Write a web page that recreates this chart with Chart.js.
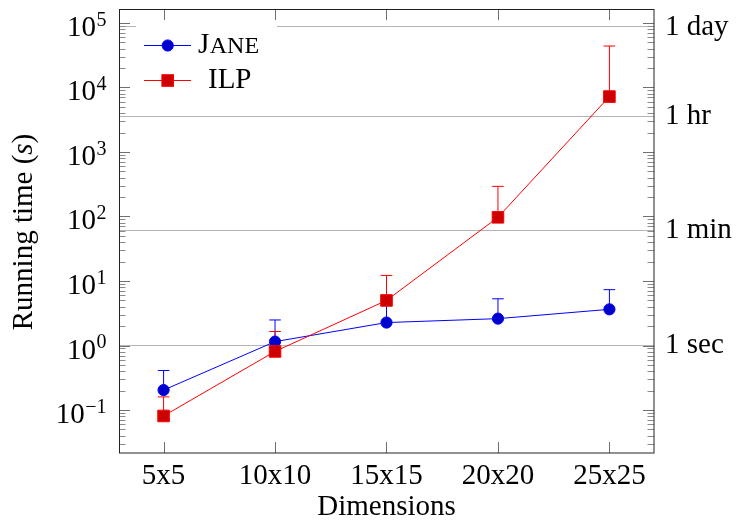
<!DOCTYPE html>
<html><head><meta charset="utf-8">
<script src="https://cdn.jsdelivr.net/npm/chart.js@4"></script>
<style>html,body{margin:0;padding:0;background:#fff}canvas{display:block}</style>
</head><body>
<canvas id="c" width="737" height="529"></canvas>
<script>
const categories = ['5x5', '10x10', '15x15', '20x20', '25x25'];
const janeTimes = [0.204, 1.15, 2.27, 2.61, 3.64];
const janeUpper = [0.41, 2.49, 4.6, 5.3, 7.34];
const ilpTimes = [0.081, 0.81, 5.0, 97, 7210];
const ilpUpper = [0.16, 1.65, 12.2, 293, 43800];
const leftTickExponents = [-1, 0, 1, 2, 3, 4, 5];
const rightTickValues = [1, 60, 3600, 86400];
const rightTickLabels = ['1 sec', '1 min', '1 hr', '1 day'];
const yMin = 0.0216, yMax = 1.63e5;

const FAM = '"Liberation Serif", "Times New Roman", serif';
const BLUE = 'rgb(0,0,255)', BLUE_FILL = 'rgb(0,0,204)';
const RED = 'rgb(255,0,0)', RED_FILL = 'rgb(204,0,0)';

const errorBars = {
  id: 'errorBars',
  beforeDatasetsDraw(chart) {
    const ctx = chart.ctx, ys = chart.scales.y, xs = chart.scales.x;
    chart.data.datasets.forEach(ds => {
      ctx.save();
      ctx.strokeStyle = ds.borderColor;
      ctx.lineWidth = 1;
      ds.upper.forEach((u, i) => {
        const x = xs.getPixelForValue(i);
        const y0 = ys.getPixelForValue(ds.data[i].y);
        const y1 = ys.getPixelForValue(u);
        ctx.beginPath();
        ctx.moveTo(x, y0); ctx.lineTo(x, y1);
        ctx.moveTo(x - 5.8, y1); ctx.lineTo(x + 5.8, y1);
        ctx.stroke();
      });
      ctx.restore();
    });
  }
};

const decor = {
  id: 'decor',
  afterDraw(chart) {
    const ctx = chart.ctx, a = chart.chartArea, ys = chart.scales.y, xs = chart.scales.x;
    ctx.save();
    ctx.lineWidth = 1;
    for (let k = -2; k <= 5; k++) {
      for (let m = 1; m <= 9; m++) {
        const v = m * Math.pow(10, k);
        if (v < yMin || v > yMax) continue;
        const y = Math.round(ys.getPixelForValue(v)) + 0.5;
        const len = m === 1 ? 11 : 6.5;
        ctx.strokeStyle = m === 1 ? '#707070' : '#8c8c8c';
        ctx.beginPath();
        ctx.moveTo(a.left, y); ctx.lineTo(a.left + len, y);
        ctx.moveTo(a.right, y); ctx.lineTo(a.right - len, y);
        ctx.stroke();
      }
    }
    ctx.strokeStyle = '#707070';
    categories.forEach((c, i) => {
      const x = Math.round(xs.getPixelForValue(i)) + 0.5;
      ctx.beginPath();
      ctx.moveTo(x, a.bottom); ctx.lineTo(x, a.bottom - 11);
      ctx.moveTo(x, a.top); ctx.lineTo(x, a.top + 11);
      ctx.stroke();
    });
    ctx.strokeStyle = '#222';
    ctx.strokeRect(Math.round(a.left) + 0.5, Math.round(a.top) + 0.5,
      Math.round(a.right - a.left) - 0.5, Math.round(a.bottom - a.top) - 0.5);

    ctx.fillStyle = '#000';
    ctx.textBaseline = 'alphabetic';
    ctx.textAlign = 'left';
    leftTickExponents.forEach(e => {
      const y = ys.getPixelForValue(Math.pow(10, e));
      const sup = e < 0 ? '\u2212' + (-e) : String(e);
      ctx.font = '20px ' + FAM;
      const wS = ctx.measureText(sup).width;
      ctx.font = '29px ' + FAM;
      const wB = ctx.measureText('10').width;
      const xb = 106.5 - wS - wB - 0.5;
      ctx.fillText('10', xb, y + 13);
      ctx.font = '20px ' + FAM;
      ctx.fillText(sup, xb + wB + 0.5, y + 2.7);
    });

    ctx.save();
    ctx.translate(32, 232);
    ctx.rotate(-Math.PI / 2);
    const segs = [['Running time (', '29px ' + FAM], ['s', 'italic 29px ' + FAM], [')', '29px ' + FAM]];
    let W = 0;
    segs.forEach(s => { ctx.font = s[1]; W += ctx.measureText(s[0]).width; });
    let cx = -W / 2;
    segs.forEach(s => { ctx.font = s[1]; ctx.fillText(s[0], cx, 0); cx += ctx.measureText(s[0]).width; });
    ctx.restore();

    ctx.fillStyle = '#fff';
    ctx.fillRect(136, 20, 141, 80);
    ctx.lineWidth = 1;
    ctx.strokeStyle = BLUE;
    ctx.beginPath(); ctx.moveTo(144, 45.5); ctx.lineTo(191, 45.5); ctx.stroke();
    ctx.fillStyle = BLUE_FILL;
    ctx.beginPath(); ctx.arc(167.7, 45.5, 5.6, 0, Math.PI * 2); ctx.fill(); ctx.stroke();
    ctx.fillStyle = '#000';
    ctx.font = '29px ' + FAM;
    ctx.fillText('J', 198, 53.3);
    const wJ = ctx.measureText('J').width;
    ctx.font = '24px ' + FAM;
    ctx.fillText('ANE', 198 + wJ + 0.5, 53.3);
    ctx.strokeStyle = RED;
    ctx.beginPath(); ctx.moveTo(144, 80.5); ctx.lineTo(191, 80.5); ctx.stroke();
    ctx.fillStyle = RED_FILL;
    ctx.fillRect(167.7 - 5.8, 80.5 - 5.8, 11.6, 11.6);
    ctx.strokeRect(167.7 - 5.8, 80.5 - 5.8, 11.6, 11.6);
    ctx.fillStyle = '#000';
    ctx.font = '29px ' + FAM;
    ctx.fillText('ILP', 208, 88.3);
    ctx.restore();
  }
};

const toPts = arr => arr.map((v, i) => ({ x: i, y: v }));
const noPad = s => { s.paddingTop = 0; s.paddingBottom = 0; s.paddingLeft = 0; s.paddingRight = 0; };

new Chart(document.getElementById('c'), {
  type: 'line',
  data: {
    datasets: [
      { label: 'Jane', data: toPts(janeTimes), upper: janeUpper, order: 1,
        borderColor: BLUE, backgroundColor: BLUE_FILL, borderWidth: 1,
        pointStyle: 'circle', pointRadius: 5.6, pointBorderWidth: 1,
        pointBorderColor: BLUE, pointBackgroundColor: BLUE_FILL, tension: 0 },
      { label: 'ILP', data: toPts(ilpTimes), upper: ilpUpper, order: 0,
        borderColor: RED, backgroundColor: RED_FILL, borderWidth: 1,
        pointStyle: 'rect', pointRadius: 8.2, pointBorderWidth: 1,
        pointBorderColor: RED, pointBackgroundColor: RED_FILL, tension: 0 }
    ]
  },
  options: {
    responsive: false,
    animation: false,
    devicePixelRatio: 1,
    events: [],
    layout: { padding: { top: 8, left: 0, right: 0, bottom: 0 } },
    plugins: { legend: { display: false }, tooltip: { enabled: false } },
    scales: {
      x: {
        type: 'linear', min: -0.4, max: 4.4,
        afterBuildTicks: s => { s.ticks = categories.map((c, i) => ({ value: i })); },
        afterFit: s => { s.height = 76; noPad(s); },
        grid: { display: false, drawTicks: false },
        border: { display: false },
        ticks: { callback: v => categories[Math.round(v)], font: { family: FAM, size: 29 },
          color: '#000', padding: 6, maxRotation: 0, autoSkip: false },
        title: { display: true, text: 'Dimensions', font: { family: FAM, size: 29 },
          color: '#000', padding: { top: 0, bottom: 4 } }
      },
      y: {
        type: 'logarithmic', position: 'left', min: yMin, max: yMax,
        afterFit: s => { s.width = 119; noPad(s); },
        grid: { display: false, drawTicks: false },
        border: { display: false },
        ticks: { display: false }
      },
      y2: {
        type: 'logarithmic', position: 'right', min: yMin, max: yMax,
        afterBuildTicks: s => { s.ticks = rightTickValues.map(v => ({ value: v })); },
        afterFit: s => { s.width = 83; noPad(s); },
        grid: { display: true, color: '#b4b4b4', lineWidth: 1, drawTicks: false },
        border: { display: false },
        ticks: { callback: (v, i) => rightTickLabels[i], font: { family: FAM, size: 29 },
          color: '#000', padding: 11, autoSkip: false }
      }
    }
  },
  plugins: [errorBars, decor]
});
</script>
</body></html>
